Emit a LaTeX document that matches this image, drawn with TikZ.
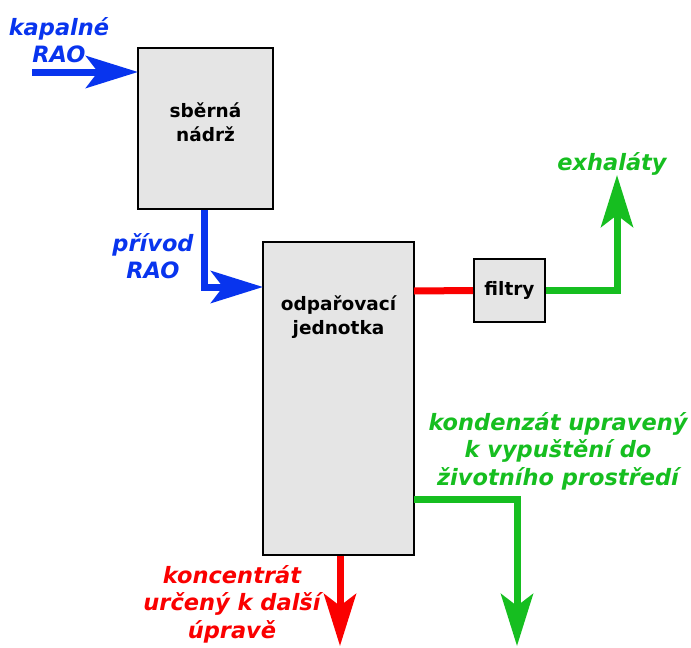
\documentclass[tikz,border=0pt]{standalone}
\usepackage{fontspec}
\setmainfont{DejaVu Sans}
\usetikzlibrary{arrows.meta}
\definecolor{raoblue}{RGB}{8,52,238}
\definecolor{flowgreen}{RGB}{22,190,32}
\definecolor{flowred}{RGB}{250,0,0}
\definecolor{boxgray}{RGB}{229,229,229}
\begin{document}
\begin{tikzpicture}[x=1pt,y=-1pt,
  unit/.style={draw=black,line width=2pt,fill=boxgray,inner sep=0pt},
  unitlabel/.style={font=\fontsize{18.5}{24}\selectfont\bfseries,align=center},
  flowlabel/.style={font=\fontsize{22.5}{27.5}\selectfont\bfseries\itshape,align=center},
  flow/.style={line width=7pt,line join=miter,-{Stealth[length=52pt,width=32pt,inset=12pt]}},
  pipe/.style={line width=7pt}]
\useasboundingbox (0,0) rectangle (691,648);

% process units
\draw[unit] (138,48) rectangle (273,209);
\node[unitlabel] (tank) at (205.5,122) {sběrná\\nádrž};
\draw[unit] (263,242) rectangle (414,555);
\node[unitlabel] (evap) at (338.5,317) {odpařovací\\jednotka};
\node[unit,minimum width=71pt,minimum height=63pt,font=\fontsize{18.5}{24}\selectfont\bfseries] (filt) at (509.5,290.5) {filtry};

% anchors on the unit outlines
\coordinate (tankin) at (138,72);
\coordinate (tankout) at (204.5,210);
\coordinate (evapin) at (263,287);
\coordinate (evapgas) at (414,291);
\coordinate (evapcond) at (414,499);
\coordinate (evapconc) at (340,556);
\coordinate (feedstart) at (32,72);
\coordinate (exhaust) at (617,175);
\coordinate (condout) at (517,646);
\coordinate (concout) at (340,646);

% liquid waste inlet and feed
\draw[flow,raoblue] (feedstart) -- (tankin);
\draw[flow,raoblue] (tankout) |- (evapin);

% vapour to the filters and off-gas
\draw[pipe,flowred] (evapgas) -- (filt.west);
\draw[flow,flowgreen] (filt.east) -| (exhaust);

% condensate and concentrate outlets
\draw[flow,flowgreen] (evapcond) -| (condout);
\draw[flow,flowred] (evapconc) -- (concout);

% stream labels
\node[flowlabel,text=raoblue] (lblin) at (59,40) {kapalné\\RAO};
\node[flowlabel,text=raoblue] (lblfeed) at (153,256) {přívod\\RAO};
\node[flowlabel,text=flowgreen] (lblgas) at (612,164) {exhaláty};
\node[flowlabel,text=flowgreen] (lblcond) at (558,451) {kondenzát upravený\\k vypuštění do\\životního prostředí};
\node[flowlabel,text=flowred] (lblconc) at (232,604) {koncentrát\\určený k další\\úpravě};
\end{tikzpicture}
\end{document}
